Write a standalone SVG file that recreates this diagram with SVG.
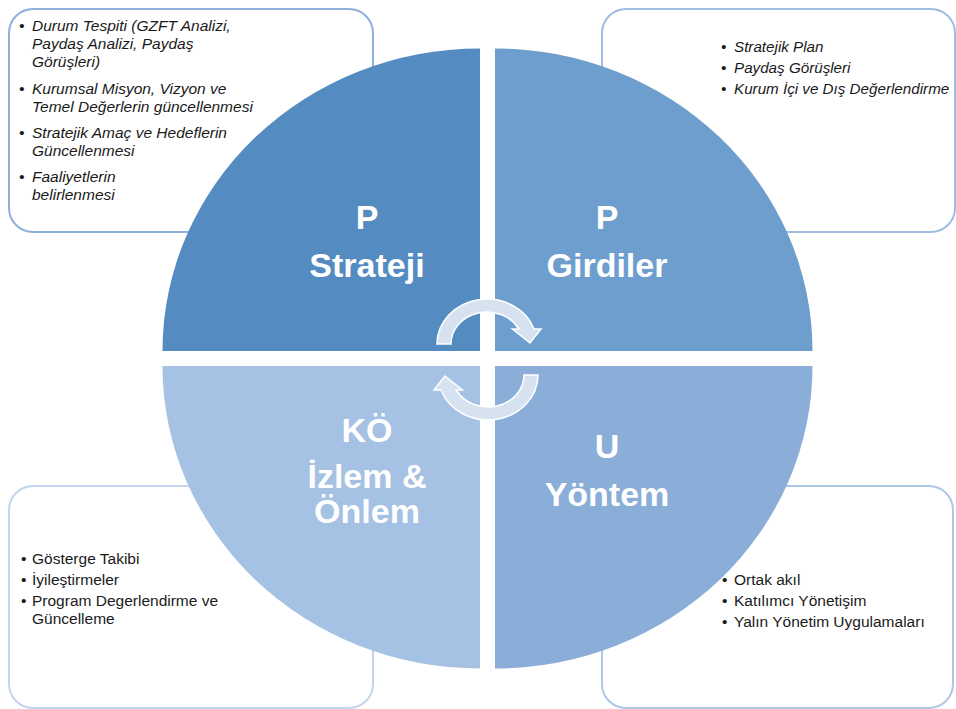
<svg xmlns="http://www.w3.org/2000/svg" width="956" height="709" viewBox="0 0 956 709">
<style>
.box{fill:#fff;stroke-width:2}
.bt{font-family:"Liberation Sans",Arial,sans-serif;font-size:15.5px;fill:#1a1a1a}
.it{font-style:italic}
.sm{font-size:15.2px}
.lbl{font-family:"Liberation Sans",Arial,sans-serif;font-weight:bold;font-size:34px;fill:#fff;text-anchor:middle}
.arr{fill:#d7e2f1;stroke:#fff;stroke-width:1.5;stroke-linejoin:miter}
</style>
<rect width="956" height="709" fill="#fff"/>

<g id="box-tl">
<rect class="box" x="9" y="9" width="364" height="223" rx="24" stroke="#8eb1dc"/>
<g class="bt it">
<text x="19" y="31">•</text>
<text x="32" y="31">Durum Tespiti (GZFT Analizi,</text>
<text x="32" y="49">Paydaş Analizi, Paydaş</text>
<text x="32" y="67">Görüşleri)</text>
<text x="19" y="94">•</text>
<text x="32" y="94">Kurumsal Misyon, Vizyon ve</text>
<text x="32" y="112">Temel Değerlerin güncellenmesi</text>
<text x="19" y="138">•</text>
<text x="32" y="138">Stratejik Amaç ve Hedeflerin</text>
<text x="32" y="156">Güncellenmesi</text>
<text x="19" y="182">•</text>
<text x="32" y="182">Faaliyetlerin</text>
<text x="32" y="200">belirlenmesi</text>
</g>
</g>

<g id="box-tr">
<rect class="box" x="602" y="9" width="353" height="223" rx="24" stroke="#9dbde2"/>
<g class="bt it sm">
<text x="721" y="52">•</text>
<text x="734" y="52">Stratejik Plan</text>
<text x="721" y="73">•</text>
<text x="734" y="73">Paydaş Görüşleri</text>
<text x="721" y="94">•</text>
<text x="734" y="94">Kurum İçi ve Dış Değerlendirme</text>
</g>
</g>

<g id="box-bl">
<rect class="box" x="9" y="486" width="364" height="222" rx="24" stroke="#c2d4ee"/>
<g class="bt">
<text x="21" y="564">•</text>
<text x="32" y="564">Gösterge Takibi</text>
<text x="21" y="585">•</text>
<text x="32" y="585">İyileştirmeler</text>
<text x="21" y="606">•</text>
<text x="32" y="606">Program Degerlendirme ve</text>
<text x="32" y="624">Güncelleme</text>
</g>
</g>

<g id="box-br">
<rect class="box" x="602" y="486" width="351" height="222" rx="24" stroke="#afc7e7"/>
<g class="bt">
<text x="722" y="585">•</text>
<text x="734" y="585">Ortak akıl</text>
<text x="722" y="606">•</text>
<text x="734" y="606">Katılımcı Yönetişim</text>
<text x="722" y="627">•</text>
<text x="734" y="627">Yalın Yönetim Uygulamaları</text>
</g>
</g>

<g id="q-strateji">
<path d="M480,351 L162.5,351 A317.5,302.5 0 0 1 480,48.5 Z" fill="#548cc1"/>
<text class="lbl" x="367" y="229">P</text>
<text class="lbl" x="367" y="277">Strateji</text>
</g>

<g id="q-girdiler">
<path d="M495,351 L495,48.5 A317.5,302.5 0 0 1 812.5,351 Z" fill="#6d9ecd"/>
<text class="lbl" x="607" y="229">P</text>
<text class="lbl" x="607" y="277">Girdiler</text>
</g>

<g id="q-yontem">
<path d="M495,366 L812.5,366 A317.5,302.5 0 0 1 495,668.5 Z" fill="#8aaed8"/>
<text class="lbl" x="607" y="458">U</text>
<text class="lbl" x="607" y="506">Yöntem</text>
</g>

<g id="q-izlem">
<path d="M480,366 L480,668.5 A317.5,302.5 0 0 1 162.5,366 Z" fill="#a5c1e3"/>
<text class="lbl" x="367" y="442">KÖ</text>
<text class="lbl" x="367" y="488">İzlem &amp;</text>
<text class="lbl" x="367" y="523">Önlem</text>
</g>

<g id="connectors">
<path class="arr" d="M437,344 A50,45 0 0 1 534.1,329 L541,329 L530,343 L512.5,329 L518.8,329 A36,32 0 0 0 451,344 Z"/>
<path class="arr" transform="rotate(180 487.5 359.5)" d="M437,344 A50,45 0 0 1 534.1,329 L541,329 L530,343 L512.5,329 L518.8,329 A36,32 0 0 0 451,344 Z"/>
</g>
</svg>
